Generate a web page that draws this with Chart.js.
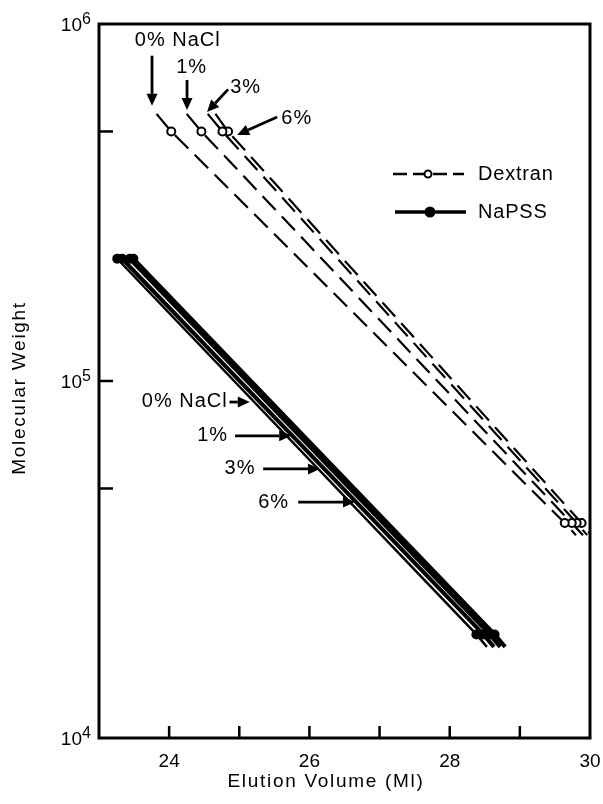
<!DOCTYPE html>
<html>
<head>
<meta charset="utf-8">
<script src="https://cdn.jsdelivr.net/npm/chart.js@4.4.1/dist/chart.umd.min.js"></script>
<style>
  html, body { margin: 0; padding: 0; background: #fff; }
  canvas { display: block; }
</style>
</head>
<body>
<canvas id="sec-chart" width="603" height="804"></canvas>
<script>
// calibration lines, one per NaCl concentration
const saltLevels = ['0%', '1%', '3%', '6%'];

// Dextran standards (open circles)
const dextranMW = [5.0e5, 4.0e4];
const dextranHighVol = [24.03, 24.46, 24.76, 24.84];
const dextranLowVol = [29.64, 29.74, 29.81, 29.88];
const dextranLineStartMW = 5.6e5;
const dextranLineStartVol = [23.82, 24.25, 24.55, 24.66];
const dextranLineEndMW = 3.7e4;
const dextranLineEndVol = [29.80, 29.90, 29.96, 30.02];

// NaPSS standards (filled circles)
const napssMW = [2.2e5, 1.95e4];
const napssHighVol = [23.26, 23.33, 23.44, 23.49];
const napssLowVol = [28.38, 28.48, 28.57, 28.64];
const napssLineEndMW = 1.8e4;
const napssLineEndVol = [28.53, 28.63, 28.72, 28.79];

const xTicks = [24, 25, 26, 27, 28, 29];
const xLabels = [24, 26, 28, 30];
const yTicks = [5e5, 1e5, 5e4];
const yLabels = [6, 5, 4];

const FONT = '"Liberation Sans", Arial, Helvetica, sans-serif';

const datasets = [];
saltLevels.forEach((s, i) => {
  datasets.push({
    label: 'Dextran ' + s,
    data: [
      { x: dextranLineStartVol[i], y: dextranLineStartMW },
      { x: dextranHighVol[i], y: dextranMW[0] },
      { x: dextranLowVol[i], y: dextranMW[1] },
      { x: dextranLineEndVol[i], y: dextranLineEndMW }
    ],
    showLine: true,
    borderColor: '#000',
    borderWidth: 2.2,
    borderDash: [19, 9],
    pointRadius: [0, 4, 4, 0],
    pointBorderWidth: 2,
    pointBackgroundColor: '#fff',
    pointBorderColor: '#000'
  });
});
saltLevels.forEach((s, i) => {
  datasets.push({
    label: 'NaPSS ' + s,
    data: [
      { x: napssHighVol[i], y: napssMW[0] },
      { x: napssLowVol[i], y: napssMW[1] },
      { x: napssLineEndVol[i], y: napssLineEndMW }
    ],
    showLine: true,
    borderColor: '#000',
    borderWidth: i === 0 ? 2.5 : 4,
    pointRadius: [5, 5, 0],
    pointBorderWidth: 0,
    pointBackgroundColor: '#000'
  });
});

// arrows labelling each salt concentration, in data units
const upperNotes = [
  { text: '0% NaCl', x: 23.51, y: 9.0e5, from: [23.756, 8.15e5], to: [23.756, 5.9e5] },
  { text: '1%', x: 24.10, y: 7.55e5, from: [24.255, 6.97e5], to: [24.255, 5.74e5] },
  { text: '3%', x: 24.87, y: 6.64e5, from: [24.84, 6.56e5], to: [24.54, 5.67e5] },
  { text: '6%', x: 25.60, y: 5.45e5, from: [25.54, 5.49e5], to: [24.97, 4.89e5] }
];
const lowerNotes = [
  { text: '0% NaCl', x: 23.61, y: 8.76e4, from: [24.86, 8.73e4], to: [25.15, 8.73e4] },
  { text: '1%', x: 24.40, y: 7.02e4, from: [24.94, 7.02e4], to: [25.74, 7.02e4] },
  { text: '3%', x: 24.79, y: 5.67e4, from: [25.34, 5.67e4], to: [26.15, 5.67e4] },
  { text: '6%', x: 25.27, y: 4.58e4, from: [25.84, 4.58e4], to: [26.65, 4.58e4] }
];

function arrow(ctx, x1, y1, x2, y2) {
  const a = Math.atan2(y2 - y1, x2 - x1);
  const len = 12, w = 5.5;
  const bx = x2 - len * Math.cos(a), by = y2 - len * Math.sin(a);
  ctx.beginPath();
  ctx.moveTo(x1, y1);
  ctx.lineTo(bx, by);
  ctx.lineWidth = 2.8;
  ctx.stroke();
  ctx.beginPath();
  ctx.moveTo(x2, y2);
  ctx.lineTo(bx + w * Math.sin(a), by - w * Math.cos(a));
  ctx.lineTo(bx - w * Math.sin(a), by + w * Math.cos(a));
  ctx.closePath();
  ctx.fill();
}

const framePlugin = {
  id: 'frame',
  afterDatasetsDraw(chart) {
    const { ctx, chartArea: a, scales: { x, y } } = chart;
    ctx.save();
    ctx.strokeStyle = '#000';
    ctx.fillStyle = '#000';

    // frame and inward ticks
    ctx.lineWidth = 3;
    ctx.strokeRect(a.left, a.top, a.right - a.left, a.bottom - a.top);
    ctx.lineWidth = 2.5;
    xTicks.forEach(v => {
      const px = x.getPixelForValue(v);
      ctx.beginPath();
      ctx.moveTo(px, a.bottom);
      ctx.lineTo(px, a.bottom - 12);
      ctx.stroke();
    });
    yTicks.forEach(v => {
      const py = y.getPixelForValue(v);
      ctx.beginPath();
      ctx.moveTo(a.left, py);
      ctx.lineTo(a.left + 14, py);
      ctx.stroke();
    });

    // tick labels
    ctx.font = '19px ' + FONT;
    ctx.textAlign = 'center';
    ctx.textBaseline = 'middle';
    xLabels.forEach(v => ctx.fillText(String(v), x.getPixelForValue(v), a.bottom + 24));
    yLabels.forEach(p => {
      const py = y.getPixelForValue(Math.pow(10, p));
      ctx.textAlign = 'right';
      ctx.font = '19px ' + FONT;
      ctx.fillText('10', a.left - 17, py + 2);
      ctx.textAlign = 'left';
      ctx.font = '16px ' + FONT;
      ctx.fillText(String(p), a.left - 17, py - 4);
    });

    // axis titles
    ctx.font = '19px ' + FONT;
    ctx.textAlign = 'center';
    ctx.letterSpacing = '1.7px';
    ctx.fillText('Elution Volume (Ml)', 326, 782);
    ctx.save();
    ctx.translate(20, 388);
    ctx.rotate(-Math.PI / 2);
    ctx.fillText('Molecular Weight', 0, 0);
    ctx.restore();

    // concentration notes
    ctx.font = '20px ' + FONT;
    ctx.letterSpacing = '1px';
    ctx.textAlign = 'left';
    upperNotes.concat(lowerNotes).forEach(n => {
      ctx.fillText(n.text, x.getPixelForValue(n.x), y.getPixelForValue(n.y));
      arrow(ctx,
        x.getPixelForValue(n.from[0]), y.getPixelForValue(n.from[1]),
        x.getPixelForValue(n.to[0]), y.getPixelForValue(n.to[1]));
    });

    // legend
    ctx.lineWidth = 2.5;
    ctx.setLineDash([14, 6]);
    ctx.beginPath();
    ctx.moveTo(393, 174);
    ctx.lineTo(464, 174);
    ctx.stroke();
    ctx.setLineDash([]);
    ctx.beginPath();
    ctx.arc(428, 174, 3.5, 0, Math.PI * 2);
    ctx.fillStyle = '#fff';
    ctx.fill();
    ctx.lineWidth = 2;
    ctx.stroke();
    ctx.fillStyle = '#000';
    ctx.lineWidth = 3.5;
    ctx.beginPath();
    ctx.moveTo(395, 212);
    ctx.lineTo(466, 212);
    ctx.stroke();
    ctx.beginPath();
    ctx.arc(430, 212, 5.5, 0, Math.PI * 2);
    ctx.fill();
    ctx.font = '20px ' + FONT;
    ctx.letterSpacing = '0.8px';
    ctx.fillText('Dextran', 478, 174);
    ctx.fillText('NaPSS', 478, 212);
    ctx.restore();
  }
};

new Chart(document.getElementById('sec-chart').getContext('2d'), {
  type: 'scatter',
  data: { datasets },
  options: {
    responsive: false,
    animation: false,
    devicePixelRatio: 1,
    layout: { padding: { left: 99, top: 24, right: 13, bottom: 66 } },
    elements: { line: { tension: 0 } },
    plugins: { legend: { display: false }, tooltip: { enabled: false } },
    scales: {
      x: { type: 'linear', min: 23, max: 30, display: false },
      y: { type: 'logarithmic', min: 1e4, max: 1e6, display: false }
    }
  },
  plugins: [framePlugin]
});
</script>
</body>
</html>
